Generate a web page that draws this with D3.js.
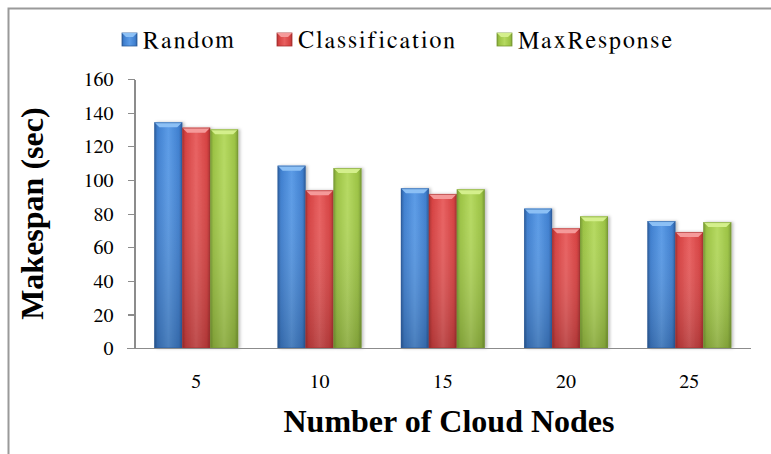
<html><head><meta charset="utf-8"></head><body style="margin:0">
<script src="https://d3js.org/d3.v7.min.js"></script>
<svg width="771" height="454"></svg>
<script>
// data
var nodes = ["5", "10", "15", "20", "25"];
var seriesNames = ["Random", "Classification", "MaxResponse"];
var random = [134.3, 108.5, 95.1, 83.0, 75.6];
var classification = [131.1, 93.9, 91.7, 71.3, 69.1];
var maxResponse = [130.1, 107.1, 94.5, 78.4, 75.0];
var yTicks = [0, 20, 40, 60, 80, 100, 120, 140, 160];

var seriesValues = [random, classification, maxResponse];
var colors = [
    { light: "#5b9be6", mid: "#3f7fcf", dark: "#2c5c9c", top: "#8cc0f5" },
    { light: "#e86060", mid: "#d54141", dark: "#a73030", top: "#f59a9a" },
    { light: "#b5d960", mid: "#9bc243", dark: "#789a34", top: "#d4ef8c" }
];
var serif = "Liberation Serif";
var serifRegular = "FreeSerif";

var svg = d3.select("svg");
var x0 = 134.6, x1 = 751, y0 = 348.3, y1 = 79;

// legend and titles first
var legendX = [122, 277, 497];
seriesNames.forEach(function(name, s) {
    svg.append("text").attr("x", legendX[s] + 21).attr("y", 48)
        .attr("font-family", serifRegular).attr("font-size", 24).attr("letter-spacing", 2.2)
        .text(name);
});
svg.append("text")
    .attr("x", 449).attr("y", 432)
    .attr("text-anchor", "middle")
    .attr("font-family", serif).attr("font-weight", "bold").attr("font-size", 32)
    .text("Number of Cloud Nodes");
svg.append("text")
    .attr("transform", "translate(43," + ((y0 + y1) / 2) + ") rotate(-90)")
    .attr("text-anchor", "middle")
    .attr("font-family", serif).attr("font-weight", "bold").attr("font-size", 32)
    .text("Makespan (sec)");

// outer border
svg.append("rect")
    .attr("x", 8.5).attr("y", 8.5)
    .attr("width", 800).attr("height", 500)
    .attr("fill", "none").attr("stroke", "#9a9a9a").attr("stroke-width", 2);

var defs = svg.append("defs");
colors.forEach(function(c, i) {
    var g = defs.append("linearGradient").attr("id", "grad" + i)
        .attr("x1", 0).attr("y1", 0).attr("x2", 1).attr("y2", 0);
    g.append("stop").attr("offset", "0%").attr("stop-color", c.dark);
    g.append("stop").attr("offset", "12%").attr("stop-color", c.mid);
    g.append("stop").attr("offset", "50%").attr("stop-color", c.light);
    g.append("stop").attr("offset", "88%").attr("stop-color", c.mid);
    g.append("stop").attr("offset", "100%").attr("stop-color", c.dark);
    var v = defs.append("linearGradient").attr("id", "vgrad" + i)
        .attr("x1", 0).attr("y1", 0).attr("x2", 0).attr("y2", 1);
    v.append("stop").attr("offset", "0%").attr("stop-color", "#fff").attr("stop-opacity", 0);
    v.append("stop").attr("offset", "100%").attr("stop-color", "#000").attr("stop-opacity", 0.18);
});
var f = defs.append("filter").attr("id", "shadow").attr("x", "-20%").attr("y", "-5%").attr("width", "150%").attr("height", "110%");
f.append("feDropShadow").attr("dx", 2).attr("dy", 0).attr("stdDeviation", 1.5).attr("flood-color", "#000").attr("flood-opacity", 0.25);

var x = d3.scaleBand().domain(nodes).range([x0, x1]).paddingInner(0.32).paddingOuter(0.16);
var xs = d3.scaleBand().domain(d3.range(3)).range([0, x.bandwidth()]);
var y = d3.scaleLinear().domain([0, 160]).range([y0, y1]);

function styleAxis(ax) {
    ax.selectAll("path, line").attr("stroke", "#8c8c8c").attr("stroke-width", 1.3).attr("shape-rendering", "crispEdges");
    ax.selectAll("text").attr("font-family", serifRegular).attr("font-size", 20).attr("fill", "#000");
}

// y axis
var yAxis = svg.append("g")
    .attr("transform", "translate(" + x0 + ",0)")
    .call(d3.axisLeft(y).tickValues(yTicks).tickSize(7).tickSizeOuter(0).tickPadding(14));
styleAxis(yAxis);

// bars
nodes.forEach(function(n, i) {
    seriesValues.forEach(function(vals, s) {
        var bx = x(n) + xs(s), bw = xs.bandwidth(), by = y(vals[i]), bh = y0 - by;
        var g = svg.append("g");
        g.append("rect").attr("x", bx).attr("y", by).attr("width", bw).attr("height", bh)
            .attr("fill", "url(#grad" + s + ")").attr("filter", "url(#shadow)");
        g.append("rect").attr("x", bx).attr("y", by).attr("width", bw).attr("height", bh)
            .attr("fill", "url(#vgrad" + s + ")");
        // top bevel
        var b = 5;
        g.append("path")
            .attr("d", "M" + bx + "," + by + "L" + (bx + bw) + "," + by + "L" + (bx + bw - b) + "," + (by + b) + "L" + (bx + b) + "," + (by + b) + "Z")
            .attr("fill", colors[s].top);
        g.append("rect").attr("x", bx + 0.5).attr("y", by + 0.5).attr("width", bw - 1).attr("height", bh - 1)
            .attr("fill", "none").attr("stroke", colors[s].dark).attr("stroke-opacity", 0.6).attr("stroke-width", 1);
    });
});

// x axis
var xAxis = svg.append("g")
    .attr("transform", "translate(0," + y0 + ")")
    .call(d3.axisBottom(x).tickSize(0).tickSizeOuter(0).tickPadding(26));
xAxis.select(".domain").attr("d", "M127,0.5H" + x1);
styleAxis(xAxis);

// legend swatches
seriesNames.forEach(function(name, s) {
    var lg = svg.append("g").attr("transform", "translate(" + legendX[s] + ",33)");
    lg.append("rect").attr("width", 15).attr("height", 13).attr("fill", "url(#grad" + s + ")")
        .attr("stroke", colors[s].dark).attr("stroke-width", 0.8);
    lg.append("path").attr("d", "M0,0L15,0L11,4L4,4Z").attr("fill", colors[s].top);
});
</script></body></html>
